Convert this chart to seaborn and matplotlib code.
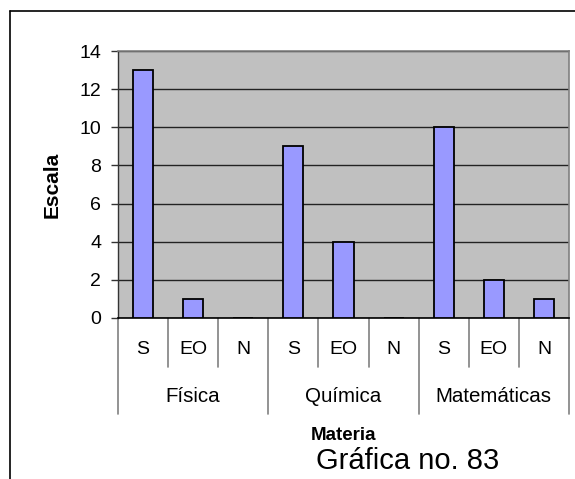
import matplotlib
matplotlib.use("Agg")
import matplotlib.pyplot as plt
import matplotlib.transforms as mtransforms
import seaborn as sns
import pandas as pd

# ---- data ----
materias = ["Física", "Química", "Matemáticas"]
respuestas = ["S", "EO", "N"]
fisica = [13, 1, 0]
quimica = [9, 4, 0]
matematicas = [10, 2, 1]
y_ticks = [0, 2, 4, 6, 8, 10, 12, 14]

valores = [fisica, quimica, matematicas]
rows = []
for m, vals in zip(materias, valores):
    for r, v in zip(respuestas, vals):
        rows.append({"slot": f"{m}|{r}", "materia": m, "respuesta": r, "valor": v})
df = pd.DataFrame(rows)
order = list(df["slot"])

sns.set_style("white")
plt.rcParams["font.family"] = ["Liberation Sans", "DejaVu Sans"]
plt.rcParams["text.color"] = "black"
plt.rcParams["ytick.labelcolor"] = "black"

W, H = 575, 479
fig = plt.figure(figsize=(W / 100, H / 100), dpi=100)
fig.patch.set_facecolor("white")

left_px, right_px, top_px, bottom_px = 118, 569, 51, 318
ax = fig.add_axes([left_px / W, 1 - bottom_px / H,
                   (right_px - left_px) / W, (bottom_px - top_px) / H])
ax.set_facecolor("#C0C0C0")

sns.barplot(data=df, x="slot", y="valor", order=order, color="#9999FF",
            edgecolor="black", linewidth=1.3, width=0.4, saturation=1,
            errorbar=None, ax=ax, zorder=3)

ax.set_ylim(0, 14)
ax.set_xlim(-0.5, len(order) - 0.5)
ax.set_yticks(y_ticks)
ax.set_yticklabels([str(t) for t in y_ticks], fontsize=14, color="black")
ax.yaxis.grid(True, color="#222222", linewidth=1.0, zorder=0)
ax.set_axisbelow(True)
ax.tick_params(axis="y", direction="out", length=5, width=1, color="#333333", pad=7, left=True)
ax.tick_params(axis="x", length=0, labelbottom=False)
ax.set_xlabel("")
ax.set_ylabel("")

for s in ["top", "right"]:
    ax.spines[s].set_color("#808080")
    ax.spines[s].set_linewidth(1.2)
ax.spines["left"].set_color("#333333")
ax.spines["left"].set_linewidth(1.0)
ax.spines["bottom"].set_color("black")
ax.spines["bottom"].set_linewidth(1.2)

trans = mtransforms.blended_transform_factory(ax.transData, ax.transAxes)
plot_h = bottom_px - top_px
y_lab1 = -(349 - bottom_px) / plot_h
y_sep1 = -(367 - bottom_px) / plot_h
y_lab2 = -(397 - bottom_px) / plot_h
y_sep2 = -(414 - bottom_px) / plot_h

for i, (m, r) in enumerate(zip(df["materia"], df["respuesta"])):
    ax.text(i, y_lab1, r, transform=trans, ha="center", va="center", fontsize=14)
for k in range(len(order) + 1):
    x = k - 0.5
    y_end = y_sep2 if k % 3 == 0 else y_sep1
    ax.plot([x, x], [0, y_end], transform=trans, color="#808080", lw=1.2, clip_on=False)
for g, m in enumerate(materias):
    ax.text(g * 3 + 1, y_lab2, m, transform=trans, ha="center", va="center", fontsize=14.8)

ax.text(0.5, -(435 - bottom_px) / plot_h, "Materia", transform=ax.transAxes,
        ha="center", va="center", fontsize=13.5, fontweight="bold")
fig.text(52 / W, 1 - 185 / H, "Escala", rotation=90, ha="center", va="center",
         fontsize=15, fontweight="bold")
fig.text(408 / W, 1 - 461 / H, "Gráfica no. 83", ha="center", va="center", fontsize=21)

# outer chart-area border (left and top visible)
fig.add_artist(plt.Line2D([10 / W, 10 / W], [0, 1 - 11 / H], transform=fig.transFigure,
                          color="black", lw=1.2))
fig.add_artist(plt.Line2D([10 / W, 1], [1 - 11 / H, 1 - 11 / H], transform=fig.transFigure,
                          color="black", lw=1.2))

fig.savefig("out.png", dpi=100)
